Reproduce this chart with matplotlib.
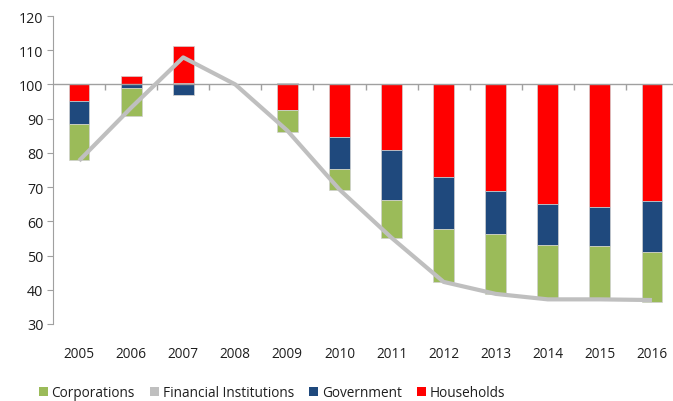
import numpy as np
import matplotlib
matplotlib.use('Agg')
import matplotlib.pyplot as plt
from matplotlib.patches import Patch
from matplotlib.ticker import FixedLocator

plt.rcParams['font.family'] = ['Open Sans', 'DejaVu Sans']

years = ['2005', '2006', '2007', '2008', '2009', '2010',
         '2011', '2012', '2013', '2014', '2015', '2016']
# contributions relative to the 2008 base of 100
corporations = [-10.5, -8.2, 0.5, 0.0, -6.6, -6.0, -11.0, -15.5, -17.5, -15.7, -15.6, -14.4]
government = [-6.9, -1.1, -3.2, 0.0, 0.5, -9.3, -14.7, -15.1, -12.7, -12.1, -11.4, -15.1]
households = [-4.7, 2.5, 10.6, 0.0, -7.4, -15.4, -19.1, -27.1, -31.0, -34.9, -35.7, -34.0]
financial = [77.7, 93.2, 107.9, 100.0, 86.5, 69.3, 55.2, 42.3, 38.8, 37.2, 37.2, 37.0]
base = 100

green = '#9BBB59'
blue = '#1F497D'
red = '#FF0000'
grey = '#BFBFBF'
text_col = '#1e1e1e'
axis_col = '#a0a0a0'

fig = plt.figure(figsize=(6.73, 4.02), dpi=100)
ax = fig.add_axes([53 / 673, 77 / 402, 625 / 673, 308 / 402])

x = np.arange(len(years))
pos_bottom = np.full(len(years), float(base))
neg_bottom = np.full(len(years), float(base))

# positives stack upward corporations -> government -> households,
# negatives stack downward households -> government -> corporations
series = [(corporations, green), (government, blue), (households, red)]
for vals, col in series:
    v = np.array(vals)
    pos = np.where(v > 0, v, 0)
    ax.bar(x, pos, bottom=pos_bottom, width=0.4, color=col,
           edgecolor='#d0d0d0', linewidth=0.5, zorder=2)
    pos_bottom += pos
for vals, col in series[::-1]:
    v = np.array(vals)
    neg = np.where(v < 0, v, 0)
    ax.bar(x, neg, bottom=neg_bottom, width=0.4, color=col,
           edgecolor='#d0d0d0', linewidth=0.5, zorder=2)
    neg_bottom += neg

ax.plot(x, financial, color=grey, linewidth=3, zorder=4, solid_capstyle='butt')

ax.set_xlim(-0.5, len(years) - 0.5)
ax.set_ylim(30, 120)
ax.set_yticks(np.arange(30, 121, 10))

ax.spines['right'].set_visible(False)
ax.spines['bottom'].set_visible(False)
ax.spines['left'].set_color(axis_col)
# category axis line crosses at 100, use the top spine for it
ax.spines['top'].set_position(('data', base))
ax.spines['top'].set_color(axis_col)
ax.spines['top'].set_linewidth(1.0)
ax.spines['top'].set_zorder(3)

ax.tick_params(axis='y', direction='out', length=4, color=axis_col,
               labelsize=10.3, labelcolor=text_col, pad=3)
ax.set_xticks(x)
ax.set_xticklabels(years)
ax.xaxis.set_minor_locator(FixedLocator(np.arange(0.5, len(years) - 0.5, 1)))
ax.tick_params(axis='x', which='major', length=0, labelsize=9.8,
               labelcolor=text_col, pad=16, top=False)
ax.tick_params(axis='x', which='minor', top=True, bottom=False,
               direction='in', length=4, width=1.0, color=axis_col)

handles = [Patch(facecolor=green), Patch(facecolor=grey),
           Patch(facecolor=blue), Patch(facecolor=red)]
labels = ['Corporations', 'Financial Institutions', 'Government', 'Households']
fig.legend(handles, labels, loc='center', bbox_to_anchor=(272 / 673, 8 / 402),
           ncol=4, frameon=False, fontsize=9.8, handlelength=0.65,
           handleheight=0.65, handletextpad=0.3, columnspacing=1.1,
           labelcolor=text_col)

fig.savefig('out.png', dpi=100)
